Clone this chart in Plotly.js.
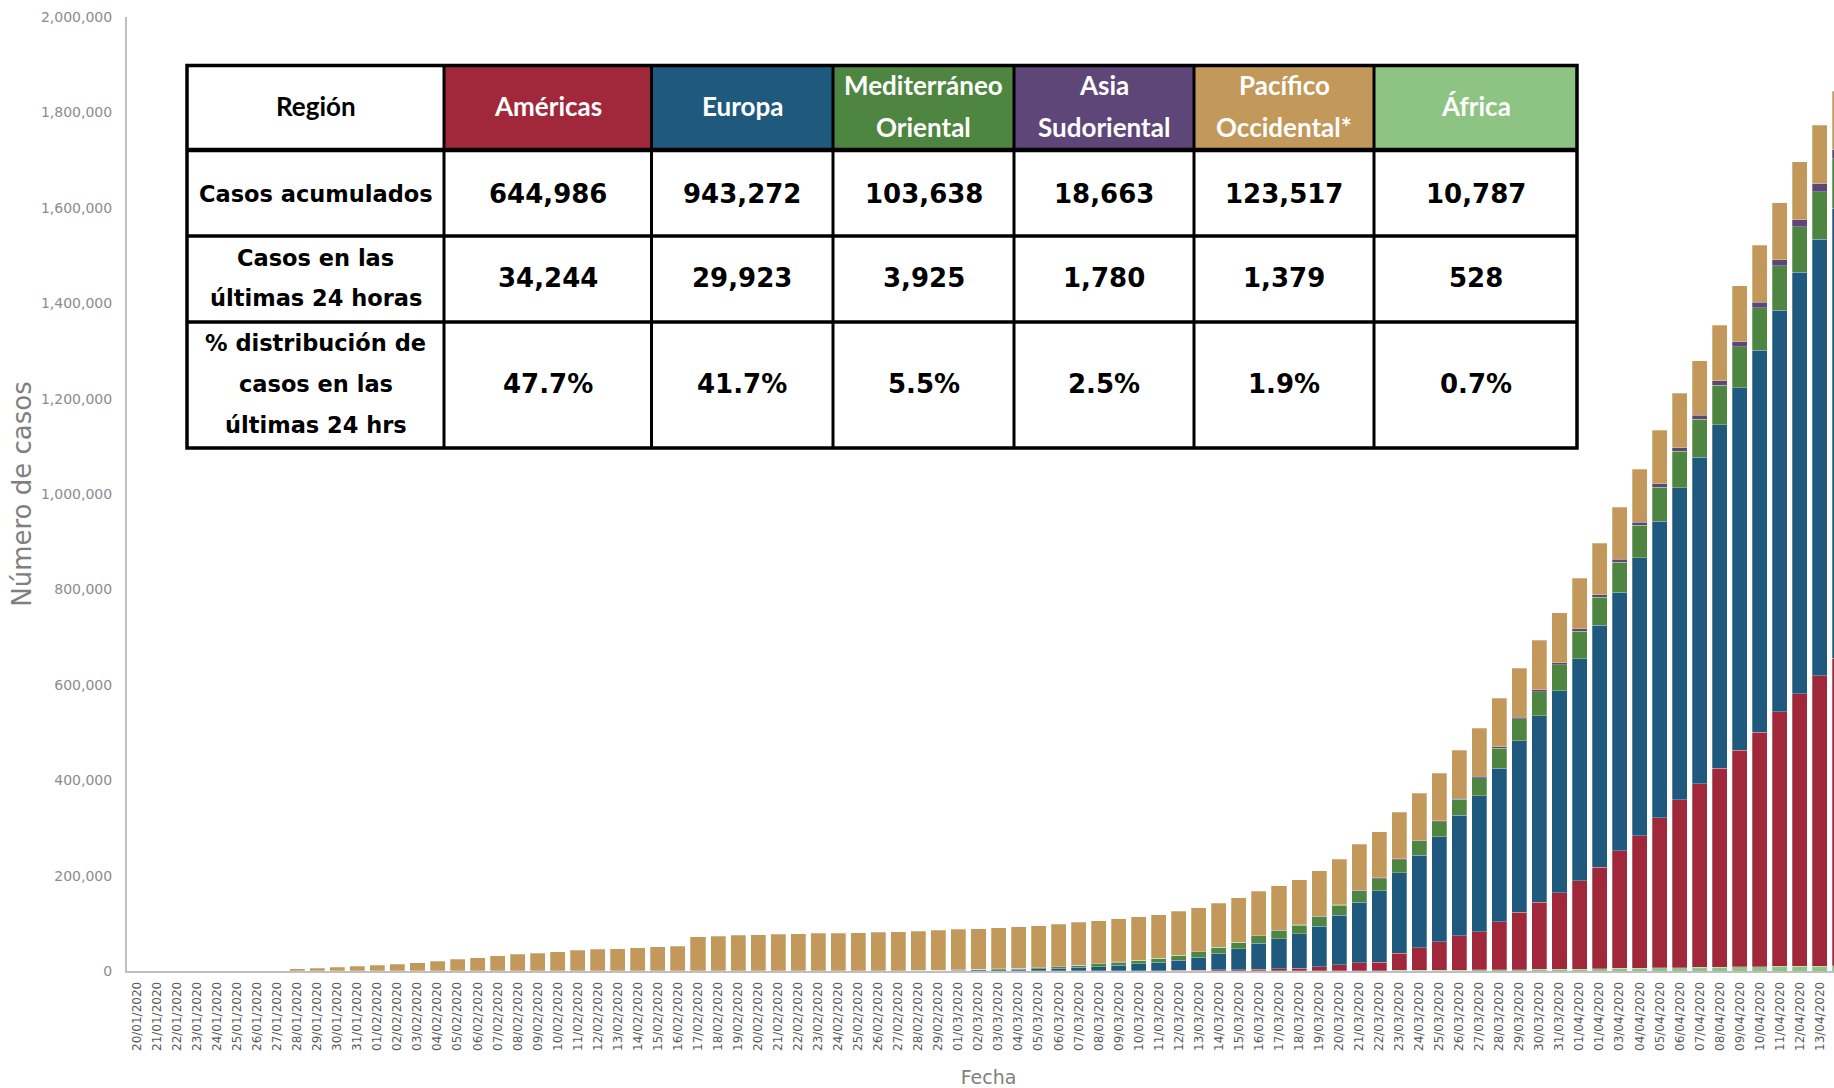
<!DOCTYPE html>
<html>
<head>
<meta charset="utf-8">
<script src="https://cdn.plot.ly/plotly-3.0.1.min.js"></script>
<style>
html, body { margin:0; padding:0; overflow:hidden; background:#ffffff; }
#chart { width:1850px; height:1088px; }
</style>
</head>
<body>
<div id="chart"></div>
<script>
// ---------------- DATA ----------------
const fechas = [
"20/01/2020","21/01/2020","22/01/2020","23/01/2020","24/01/2020","25/01/2020","26/01/2020","27/01/2020","28/01/2020","29/01/2020","30/01/2020","31/01/2020",
"01/02/2020","02/02/2020","03/02/2020","04/02/2020","05/02/2020","06/02/2020","07/02/2020","08/02/2020","09/02/2020","10/02/2020","11/02/2020","12/02/2020","13/02/2020","14/02/2020","15/02/2020","16/02/2020","17/02/2020","18/02/2020","19/02/2020","20/02/2020","21/02/2020","22/02/2020","23/02/2020","24/02/2020","25/02/2020","26/02/2020","27/02/2020","28/02/2020","29/02/2020",
"01/03/2020","02/03/2020","03/03/2020","04/03/2020","05/03/2020","06/03/2020","07/03/2020","08/03/2020","09/03/2020","10/03/2020","11/03/2020","12/03/2020","13/03/2020","14/03/2020","15/03/2020","16/03/2020","17/03/2020","18/03/2020","19/03/2020","20/03/2020","21/03/2020","22/03/2020","23/03/2020","24/03/2020","25/03/2020","26/03/2020","27/03/2020","28/03/2020","29/03/2020","30/03/2020","31/03/2020",
"01/04/2020","01/04/2020","03/04/2020","04/04/2020","05/04/2020","06/04/2020","07/04/2020","08/04/2020","09/04/2020","10/04/2020","11/04/2020","12/04/2020","13/04/2020","14/04/2020"
];

const africa = [
0,0,0,0,0,0,0,0,0,0,0,0,
0,0,0,0,0,0,0,0,0,0,0,0,0,0,0,0,0,0,0,0,0,0,0,0,1,1,1,1,1,
1,2,2,3,5,8,10,15,20,25,40,60,80,100,150,200,260,350,460,600,800,1000,1200,1400,1600,1900,2200,2500,2800,3200,3600,
4100,4700,5300,5900,6500,7000,7600,8100,8700,9200,9600,10000,10259,10787
];
const americas = [
0,0,0,0,0,0,0,0,5,5,6,8,
9,10,14,15,16,16,16,19,19,19,19,20,22,22,22,22,22,22,22,24,24,48,48,48,48,55,60,65,70,
80,100,110,130,160,220,300,430,550,700,900,1300,1800,2400,2800,3400,4100,5500,8600,12000,16000,17300,36000,47000,60000,71500,80000,101000,120000,140500,160500,
185000,213000,246500,278000,315000,352000,385000,416500,454000,491000,534000,571000,609000,644986
];
const europa = [
0,0,0,0,0,0,0,0,4,6,10,10,
17,23,23,26,28,30,31,38,40,40,44,45,45,46,46,46,47,47,47,47,47,47,80,155,260,380,560,720,1050,
1621,2109,2618,3212,4099,5494,7237,8541,11487,14337,16919,20888,27128,34589,43317,54865,63501,72427,84679,104073,127573,149842,168430,194657,220179,253184,285264,321178,359535,391224,423490,
465426,506650,542503,582435,621158,654356,684022,720461,759598,801452,842009,883388,915087,943272
];
const mediterraneo = [
0,0,0,0,0,0,0,0,0,4,4,4,
4,5,5,5,5,5,5,7,7,8,8,8,8,8,9,10,10,10,10,11,18,46,72,100,150,200,300,420,500,
700,1100,1600,2300,2900,3600,4800,6500,6800,7600,9000,10800,11500,12700,14000,15400,17000,18000,20500,21000,24000,25500,28000,29500,31000,33500,38000,42000,46000,50500,54000,
58000,59000,63000,68000,72000,76000,80000,83000,86000,89000,92500,96000,99713,103638
];
const asia = [
0,0,0,0,0,0,0,0,14,14,14,19,
21,24,25,26,27,28,28,29,36,36,37,37,37,37,37,37,37,38,38,38,38,38,38,38,38,38,38,39,40,
42,42,45,50,60,70,80,100,120,140,160,200,250,350,450,550,650,750,900,1000,1300,1500,1800,2000,2300,2600,2900,3200,3500,3800,4200,
4700,5200,5800,6500,7000,8000,8900,9800,10500,11700,13000,15000,16885,18663
];
const pacifico = [
0,0,0,0,0,0,0,0,4570,6036,7784,9785,
11902,14495,17324,20558,24478,28197,31401,34793,37456,40451,42995,45061,46885,48940,50465,51741,71312,73214,75086,75627,76641,77614,78572,78989,79742,80435,81335,82407,83742,
84700,85600,86500,87400,88100,88800,89500,90000,90600,90900,91300,91800,92000,92400,92800,93100,93600,94100,94700,95400,96400,97000,97500,98200,99100,100000,100800,101800,103000,104000,105100,
106400,107900,109200,110800,112100,113600,114200,115500,117400,118900,119800,121200,122140,123517
];

const yTicks = [0,200000,400000,600000,800000,1000000,1200000,1400000,1600000,1800000,2000000];

// Table data
const tablaEncabezado = "Región";
const tablaRegiones = ["Américas","Europa","Mediterráneo<br>Oriental","Asia<br>Sudoriental","Pacífico<br>Occidental*","África"];
const tablaFilas = ["Casos acumulados","Casos en las<br>últimas 24 horas","% distribución de<br>casos en las<br>últimas 24 hrs"];
const casosAcumulados = [644986, 943272, 103638, 18663, 123517, 10787];
const casos24h = [34244, 29923, 3925, 1780, 1379, 528];
const distribucion24h = [47.7, 41.7, 5.5, 2.5, 1.9, 0.7];

// ---------------- STYLE ----------------
const colores = {
  africa:"#8DC383", americas:"#A0283A", europa:"#1F5A7E",
  mediterraneo:"#4E8540", asia:"#5E4679", pacifico:"#C2985B"
};
const headerColors = [colores.americas, colores.europa, colores.mediterraneo, colores.asia, colores.pacifico, colores.africa];

const idx = fechas.map((_, i) => i);
function barTrace(name, y, color){
  return {
    type:'bar', name:name, x:idx, y:y,
    marker:{color:color, line:{color:'rgba(255,255,255,0.45)', width:0.6}},
    hoverinfo:'skip'
  };
}
const traces = [
  barTrace('África', africa, colores.africa),
  barTrace('Américas', americas, colores.americas),
  barTrace('Europa', europa, colores.europa),
  barTrace('Mediterráneo Oriental', mediterraneo, colores.mediterraneo),
  barTrace('Asia Sudoriental', asia, colores.asia),
  barTrace('Pacífico Occidental', pacifico, colores.pacifico)
];

// pixel -> paper helpers
const W = 1850, H = 1088, ML = 127, MR = 0, MT = 17, MB = 117;
const PW = W - ML - MR, PH = H - MT - MB;
const px = p => (p - ML) / PW;
const py = p => (H - MB - p) / PH;

// Table geometry (pixels)
const colX = [187, 444, 651.5, 833, 1014, 1194, 1374, 1577];
const rowY = [65.5, 150, 236, 322, 448];
const rowCenters = [106, 194, 278, 384];
const lineGap = [42, 40, 40, 41];

const shapes = [];
const annotations = [];

shapes.push({type:'rect', xref:'paper', yref:'paper', x0:px(colX[0]), x1:px(colX[7]), y0:py(rowY[0]), y1:py(rowY[4]),
  fillcolor:'#ffffff', line:{width:0}, layer:'above'});
headerColors.forEach((c, i) => {
  shapes.push({type:'rect', xref:'paper', yref:'paper', x0:px(colX[i+1]), x1:px(colX[i+2]), y0:py(rowY[0]), y1:py(rowY[1]),
    fillcolor:c, line:{width:0}, layer:'above'});
});
for (let r = 1; r < rowY.length - 1; r++) {
  shapes.push({type:'line', xref:'paper', yref:'paper', x0:px(colX[0]), x1:px(colX[7]), y0:py(rowY[r]), y1:py(rowY[r]),
    line:{color:'#000000', width: r === 1 ? 4.5 : 3.5}, layer:'above'});
}
for (let c = 1; c < colX.length - 1; c++) {
  shapes.push({type:'line', xref:'paper', yref:'paper', x0:px(colX[c]), x1:px(colX[c]), y0:py(rowY[0]), y1:py(rowY[4]),
    line:{color:'#000000', width:3}, layer:'above'});
}
shapes.push({type:'rect', xref:'paper', yref:'paper', x0:px(colX[0]), x1:px(colX[7]), y0:py(rowY[0]), y1:py(rowY[4]),
  fillcolor:'rgba(0,0,0,0)', line:{color:'#000000', width:3.5}, layer:'above'});

function addText(text, cx, row, font){
  const lines = text.split('<br>');
  const n = lines.length;
  lines.forEach((ln, i) => {
    const yPix = rowCenters[row] + (i - (n - 1) / 2) * lineGap[row];
    annotations.push({xref:'paper', yref:'paper', x:px(cx), y:py(yPix), text:ln, showarrow:false,
      xanchor:'center', yanchor:'middle', font:font});
  });
}
const headerFont = (color) => ({family:'Lato, "Open Sans", sans-serif', size:26, color:color, weight:700});
const labelFont = {family:'"DejaVu Sans", sans-serif', size:22.5, color:'#000000', weight:700};
const valueFont = {family:'"DejaVu Sans", sans-serif', size:26, color:'#000000', weight:700};
const colCenter = c => (colX[c] + colX[c+1]) / 2;

addText(tablaEncabezado, colCenter(0), 0, headerFont('#000000'));
tablaRegiones.forEach((r, i) => addText(r, colCenter(i+1), 0, headerFont('#ffffff')));
tablaFilas.forEach((r, i) => addText(r, colCenter(0), i+1, labelFont));
const fmt = v => v.toLocaleString('en-US');
casosAcumulados.forEach((v, i) => addText(fmt(v), colCenter(i+1), 1, valueFont));
casos24h.forEach((v, i) => addText(fmt(v), colCenter(i+1), 2, valueFont));
distribucion24h.forEach((v, i) => addText(v.toFixed(1) + '%', colCenter(i+1), 3, valueFont));

const layout = {
  width:W, height:H,
  margin:{l:ML, r:MR, t:MT, b:MB, pad:0},
  paper_bgcolor:'#ffffff', plot_bgcolor:'#ffffff',
  barmode:'stack', bargap:0.25, showlegend:false,
  font:{family:'"DejaVu Sans", sans-serif', color:'#7f7f7f'},
  xaxis:{
    range:[-0.5, 85.5], tickmode:'array', tickvals:idx, ticktext:fechas,
    tickangle:-90, tickfont:{size:12, color:'#595959', family:'"DejaVu Sans", sans-serif'},
    showgrid:false, zeroline:false, showline:true, linecolor:'#bfbfbf', linewidth:2,
    ticks:'', ticklabelstandoff:4,
    title:{text:'Fecha', font:{size:19, color:'#7f7f7f'}, standoff:22}
  },
  yaxis:{
    range:[0, 2000000], tickmode:'array', tickvals:yTicks, tickformat:',d',
    tickfont:{size:14, color:'#8c8c8c', family:'"DejaVu Sans", sans-serif'},
    showgrid:false, zeroline:false, showline:true, linecolor:'#bfbfbf', linewidth:2,
    ticks:'', ticklabelstandoff:10,
    title:{text:'Número de casos', font:{size:26, color:'#7f7f7f'}, standoff:2}
  },
  shapes:shapes,
  annotations:annotations
};

Plotly.newPlot('chart', traces, layout, {displayModeBar:false, staticPlot:true});
</script>
</body>
</html>
